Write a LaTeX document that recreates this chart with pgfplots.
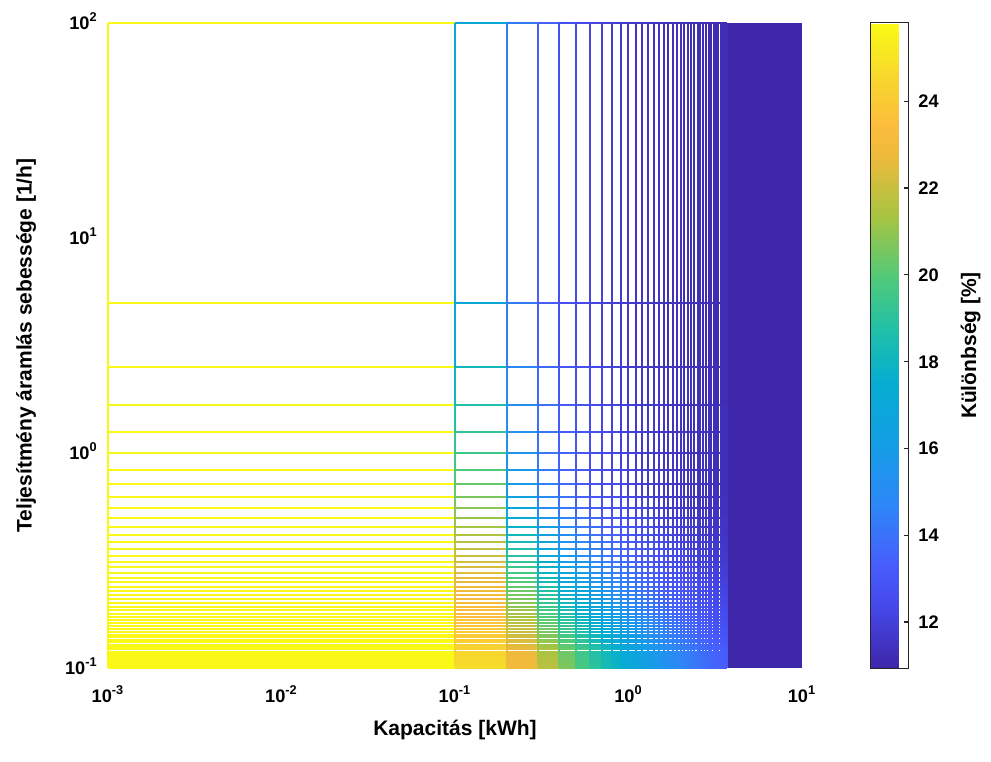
\documentclass[border=0pt]{standalone}
\usepackage{fontspec}
\setmainfont{Liberation Sans}
\usepackage{pgfplots}
\pgfplotsset{compat=1.18}
\usepackage{pgfplotstable}
\usetikzlibrary{calc}

% old MATLAB parula
\pgfplotsset{colormap={parulaold}{
  rgb(0pt)=(0.2422,0.1504,0.6603); rgb(6pt)=(0.2725,0.2839,0.9167);
  rgb(10pt)=(0.2801,0.3631,0.9868); rgb(16pt)=(0.1786,0.5289,0.9682);
  rgb(22pt)=(0.0759,0.6191,0.8985); rgb(28pt)=(0.0235,0.6798,0.8173);
  rgb(33pt)=(0.1250,0.7500,0.6600); rgb(38pt)=(0.3100,0.7900,0.4800);
  rgb(44pt)=(0.6500,0.7700,0.2600); rgb(50pt)=(0.9300,0.7300,0.2300);
  rgb(53pt)=(0.9900,0.7400,0.2400); rgb(58pt)=(0.9700,0.8500,0.1700);
  rgb(63pt)=(0.9769,0.9839,0.0805)}}
\definecolor{parulalow}{rgb}{0.243,0.153,0.665}
\pgfplotsset{gridline/.style={mesh, shader=flat corner, point meta=explicit, line width=1pt, forget plot}}

\newcommand{\tickfont}{\bfseries\fontsize{9.1}{11}\selectfont}
\newcommand{\labfont}{\bfseries\fontsize{10.5}{12.6}\selectfont}

% difference [%] on the grid: one row per power-rate value y, one column per capacity (c0..c37),
% last row xx holds the capacities
\pgfplotstableread{
name y c0 c1 c2 c3 c4 c5 c6 c7 c8 c9 c10 c11 c12 c13 c14 c15 c16 c17 c18 c19 c20 c21 c22 c23 c24 c25 c26 c27 c28 c29 c30 c31 c32 c33 c34 c35 c36 c37
r0 100 25.7 17.1 14.3 13.3 12.7 12.4 12.2 12.0 11.9 11.8 11.7 11.6 11.6 11.6 11.5 11.5 11.4 11.4 11.4 11.4 11.4 11.3 11.3 11.3 11.3 11.3 11.3 11.3 11.3 11.2 11.2 11.2 11.2 11.2 11.2 11.2 11.2 11.2
r1 5 25.7 17.1 14.3 13.3 12.7 12.4 12.2 12.0 11.9 11.8 11.7 11.6 11.6 11.6 11.5 11.5 11.4 11.4 11.4 11.4 11.4 11.3 11.3 11.3 11.3 11.3 11.3 11.3 11.3 11.2 11.2 11.2 11.2 11.2 11.2 11.2 11.2 11.2
r2 2.5 25.7 18.1 14.9 13.7 13.0 12.6 12.4 12.2 12.0 11.9 11.8 11.8 11.7 11.6 11.6 11.6 11.5 11.5 11.5 11.4 11.4 11.4 11.4 11.4 11.4 11.3 11.3 11.3 11.3 11.3 11.3 11.3 11.2 11.2 11.2 11.2 11.2 11.2
r3 1.667 25.7 18.7 15.2 13.9 13.2 12.8 12.5 12.3 12.1 12.0 11.9 11.8 11.8 11.7 11.7 11.6 11.6 11.5 11.5 11.5 11.5 11.4 11.4 11.4 11.4 11.4 11.4 11.3 11.3 11.3 11.3 11.3 11.3 11.3 11.3 11.3 11.3 11.3
r4 1.25 25.7 19.2 15.4 14.1 13.3 12.9 12.6 12.4 12.2 12.1 12.0 11.9 11.8 11.7 11.7 11.6 11.6 11.6 11.5 11.5 11.5 11.5 11.4 11.4 11.4 11.4 11.4 11.4 11.3 11.3 11.3 11.3 11.3 11.3 11.3 11.3 11.3 11.3
r5 1 25.7 19.5 15.6 14.2 13.4 13.0 12.6 12.4 12.2 12.1 12.0 11.9 11.8 11.8 11.7 11.7 11.6 11.6 11.6 11.5 11.5 11.5 11.5 11.4 11.4 11.4 11.4 11.4 11.4 11.4 11.3 11.3 11.3 11.3 11.3 11.3 11.3 11.3
r6 0.8333 25.7 19.9 15.9 14.3 13.5 13.1 12.7 12.5 12.3 12.2 12.0 12.0 11.9 11.8 11.8 11.7 11.7 11.6 11.6 11.6 11.5 11.5 11.5 11.5 11.4 11.4 11.4 11.4 11.4 11.4 11.4 11.3 11.3 11.3 11.3 11.3 11.3 11.3
r7 0.7143 25.7 20.3 16.1 14.5 13.7 13.1 12.8 12.5 12.4 12.2 12.1 12.0 11.9 11.8 11.8 11.7 11.7 11.6 11.6 11.6 11.6 11.5 11.5 11.5 11.5 11.4 11.4 11.4 11.4 11.4 11.4 11.4 11.4 11.3 11.3 11.3 11.3 11.3
r8 0.625 25.7 20.6 16.5 14.9 14.0 13.4 13.0 12.8 12.6 12.4 12.3 12.1 12.1 12.0 11.9 11.8 11.8 11.8 11.7 11.7 11.6 11.6 11.6 11.6 11.5 11.5 11.5 11.5 11.5 11.4 11.4 11.4 11.4 11.4 11.4 11.4 11.4 11.4
r9 0.5556 25.7 20.9 17.0 15.3 14.3 13.7 13.3 13.0 12.8 12.6 12.4 12.3 12.2 12.1 12.0 12.0 11.9 11.9 11.8 11.8 11.7 11.7 11.7 11.6 11.6 11.6 11.6 11.5 11.5 11.5 11.5 11.5 11.5 11.4 11.4 11.4 11.4 11.4
r10 0.5 25.7 21.1 17.4 15.6 14.7 14.0 13.6 13.2 13.0 12.8 12.6 12.5 12.4 12.3 12.2 12.1 12.0 12.0 11.9 11.9 11.8 11.8 11.8 11.7 11.7 11.7 11.6 11.6 11.6 11.6 11.6 11.5 11.5 11.5 11.5 11.5 11.5 11.5
r11 0.4545 25.7 21.3 17.7 16.0 15.0 14.3 13.8 13.4 13.2 13.0 12.8 12.6 12.5 12.4 12.3 12.2 12.1 12.1 12.0 12.0 11.9 11.9 11.8 11.8 11.8 11.7 11.7 11.7 11.7 11.6 11.6 11.6 11.6 11.6 11.6 11.5 11.5 11.5
r12 0.4167 25.7 21.5 18.1 16.3 15.3 14.5 14.0 13.7 13.4 13.1 12.9 12.8 12.6 12.5 12.4 12.3 12.3 12.2 12.1 12.1 12.0 12.0 11.9 11.9 11.9 11.8 11.8 11.8 11.7 11.7 11.7 11.7 11.6 11.6 11.6 11.6 11.6 11.6
r13 0.3846 25.7 21.7 18.4 16.6 15.5 14.8 14.3 13.9 13.6 13.3 13.1 12.9 12.8 12.7 12.6 12.5 12.4 12.3 12.2 12.2 12.1 12.1 12.0 12.0 11.9 11.9 11.9 11.8 11.8 11.8 11.8 11.7 11.7 11.7 11.7 11.7 11.6 11.6
r14 0.3571 25.7 21.9 18.7 16.9 15.8 15.1 14.5 14.1 13.8 13.5 13.3 13.1 12.9 12.8 12.7 12.6 12.5 12.4 12.3 12.3 12.2 12.2 12.1 12.1 12.0 12.0 11.9 11.9 11.9 11.9 11.8 11.8 11.8 11.8 11.7 11.7 11.7 11.7
r15 0.3333 25.7 22.0 18.9 17.2 16.1 15.3 14.7 14.3 13.9 13.7 13.4 13.2 13.1 12.9 12.8 12.7 12.6 12.5 12.4 12.4 12.3 12.2 12.2 12.1 12.1 12.1 12.0 12.0 12.0 11.9 11.9 11.9 11.8 11.8 11.8 11.8 11.7 11.7
r16 0.3125 25.7 22.2 19.2 17.4 16.3 15.5 14.9 14.5 14.1 13.8 13.6 13.4 13.2 13.1 12.9 12.8 12.7 12.6 12.5 12.5 12.4 12.3 12.3 12.2 12.2 12.1 12.1 12.1 12.0 12.0 12.0 11.9 11.9 11.9 11.8 11.8 11.8 11.8
r17 0.2941 25.7 22.3 19.4 17.7 16.6 15.7 15.1 14.7 14.3 14.0 13.8 13.5 13.4 13.2 13.1 12.9 12.8 12.7 12.6 12.6 12.5 12.4 12.4 12.3 12.3 12.2 12.2 12.1 12.1 12.1 12.0 12.0 12.0 11.9 11.9 11.9 11.9 11.8
r18 0.2778 25.7 22.5 19.6 17.9 16.8 16.0 15.3 14.9 14.5 14.2 13.9 13.7 13.5 13.3 13.2 13.1 12.9 12.8 12.7 12.7 12.6 12.5 12.5 12.4 12.3 12.3 12.2 12.2 12.2 12.1 12.1 12.1 12.0 12.0 12.0 11.9 11.9 11.9
r19 0.2632 25.7 22.6 19.8 18.1 17.0 16.2 15.5 15.0 14.7 14.3 14.1 13.8 13.6 13.5 13.3 13.2 13.0 12.9 12.8 12.8 12.7 12.6 12.5 12.5 12.4 12.4 12.3 12.3 12.2 12.2 12.2 12.1 12.1 12.1 12.0 12.0 12.0 12.0
r20 0.25 25.7 22.7 20.0 18.4 17.2 16.4 15.7 15.2 14.8 14.5 14.2 14.0 13.8 13.6 13.4 13.3 13.2 13.0 12.9 12.9 12.8 12.7 12.6 12.6 12.5 12.5 12.4 12.4 12.3 12.3 12.2 12.2 12.2 12.1 12.1 12.1 12.0 12.0
r21 0.2381 25.7 22.8 20.2 18.6 17.4 16.6 15.9 15.4 15.0 14.6 14.4 14.1 13.9 13.7 13.5 13.4 13.3 13.2 13.0 13.0 12.9 12.8 12.7 12.6 12.6 12.5 12.5 12.4 12.4 12.3 12.3 12.3 12.2 12.2 12.2 12.1 12.1 12.1
r22 0.2273 25.7 22.9 20.4 18.8 17.6 16.8 16.1 15.6 15.1 14.8 14.5 14.2 14.0 13.8 13.7 13.5 13.4 13.3 13.1 13.0 13.0 12.9 12.8 12.7 12.7 12.6 12.5 12.5 12.4 12.4 12.4 12.3 12.3 12.2 12.2 12.2 12.1 12.1
r23 0.2174 25.7 23.0 20.6 18.9 17.8 16.9 16.3 15.7 15.3 14.9 14.6 14.4 14.1 14.0 13.8 13.6 13.5 13.4 13.2 13.1 13.0 13.0 12.9 12.8 12.7 12.7 12.6 12.6 12.5 12.5 12.4 12.4 12.3 12.3 12.3 12.2 12.2 12.2
r24 0.2083 25.7 23.1 20.7 19.1 18.0 17.1 16.4 15.9 15.5 15.1 14.8 14.5 14.3 14.1 13.9 13.7 13.6 13.5 13.3 13.2 13.1 13.1 13.0 12.9 12.8 12.8 12.7 12.6 12.6 12.5 12.5 12.4 12.4 12.4 12.3 12.3 12.3 12.2
r25 0.2 25.7 23.2 20.9 19.3 18.2 17.3 16.6 16.1 15.6 15.2 14.9 14.6 14.4 14.2 14.0 13.8 13.7 13.6 13.4 13.3 13.2 13.1 13.1 13.0 12.9 12.8 12.8 12.7 12.7 12.6 12.6 12.5 12.5 12.4 12.4 12.4 12.3 12.3
r26 0.1923 25.7 23.3 21.0 19.5 18.3 17.5 16.8 16.2 15.8 15.4 15.0 14.8 14.5 14.3 14.1 13.9 13.8 13.7 13.5 13.4 13.3 13.2 13.1 13.1 13.0 12.9 12.8 12.8 12.7 12.7 12.6 12.6 12.5 12.5 12.5 12.4 12.4 12.3
r27 0.1852 25.7 23.4 21.2 19.6 18.5 17.6 16.9 16.4 15.9 15.5 15.2 14.9 14.6 14.4 14.2 14.1 13.9 13.8 13.6 13.5 13.4 13.3 13.2 13.1 13.1 13.0 12.9 12.9 12.8 12.7 12.7 12.6 12.6 12.6 12.5 12.5 12.4 12.4
r28 0.1786 25.7 23.5 21.3 19.8 18.6 17.8 17.1 16.5 16.0 15.6 15.3 15.0 14.8 14.5 14.3 14.2 14.0 13.9 13.7 13.6 13.5 13.4 13.3 13.2 13.1 13.1 13.0 12.9 12.9 12.8 12.8 12.7 12.7 12.6 12.6 12.5 12.5 12.5
r29 0.1724 25.7 23.5 21.4 19.9 18.8 17.9 17.2 16.7 16.2 15.8 15.4 15.1 14.9 14.7 14.4 14.3 14.1 14.0 13.8 13.7 13.6 13.5 13.4 13.3 13.2 13.1 13.1 13.0 12.9 12.9 12.8 12.8 12.7 12.7 12.6 12.6 12.5 12.5
r30 0.1667 25.7 23.6 21.6 20.1 18.9 18.1 17.4 16.8 16.3 15.9 15.6 15.3 15.0 14.8 14.6 14.4 14.2 14.1 13.9 13.8 13.7 13.6 13.5 13.4 13.3 13.2 13.1 13.1 13.0 12.9 12.9 12.8 12.8 12.7 12.7 12.6 12.6 12.6
r31 0.1613 25.7 23.7 21.7 20.2 19.1 18.2 17.5 16.9 16.5 16.0 15.7 15.4 15.1 14.9 14.7 14.5 14.3 14.1 14.0 13.9 13.8 13.6 13.5 13.5 13.4 13.3 13.2 13.1 13.1 13.0 13.0 12.9 12.8 12.8 12.7 12.7 12.7 12.6
r32 0.1563 25.7 23.8 21.8 20.3 19.2 18.4 17.7 17.1 16.6 16.2 15.8 15.5 15.2 15.0 14.8 14.6 14.4 14.2 14.1 14.0 13.8 13.7 13.6 13.5 13.4 13.4 13.3 13.2 13.1 13.1 13.0 13.0 12.9 12.9 12.8 12.8 12.7 12.7
r33 0.1515 25.7 23.9 21.9 20.5 19.4 18.5 17.8 17.2 16.7 16.3 15.9 15.6 15.3 15.1 14.9 14.7 14.5 14.3 14.2 14.1 13.9 13.8 13.7 13.6 13.5 13.4 13.4 13.3 13.2 13.1 13.1 13.0 13.0 12.9 12.9 12.8 12.8 12.7
r34 0.1471 25.7 23.9 22.0 20.6 19.5 18.6 17.9 17.3 16.8 16.4 16.0 15.7 15.4 15.2 15.0 14.8 14.6 14.4 14.3 14.1 14.0 13.9 13.8 13.7 13.6 13.5 13.4 13.3 13.3 13.2 13.1 13.1 13.0 13.0 12.9 12.9 12.8 12.8
r35 0.1429 25.7 24.0 22.1 20.7 19.6 18.8 18.1 17.5 17.0 16.5 16.2 15.8 15.6 15.3 15.1 14.9 14.7 14.5 14.4 14.2 14.1 14.0 13.9 13.8 13.7 13.6 13.5 13.4 13.3 13.3 13.2 13.1 13.1 13.0 13.0 12.9 12.9 12.8
r36 0.1389 25.7 24.0 22.2 20.8 19.8 18.9 18.2 17.6 17.1 16.7 16.3 16.0 15.7 15.4 15.2 15.0 14.8 14.6 14.5 14.3 14.2 14.1 13.9 13.8 13.7 13.6 13.6 13.5 13.4 13.3 13.3 13.2 13.1 13.1 13.0 13.0 12.9 12.9
r37 0.1351 25.7 24.1 22.3 20.9 19.9 19.0 18.3 17.7 17.2 16.8 16.4 16.1 15.8 15.5 15.3 15.1 14.9 14.7 14.5 14.4 14.3 14.1 14.0 13.9 13.8 13.7 13.6 13.6 13.5 13.4 13.3 13.3 13.2 13.2 13.1 13.0 13.0 12.9
r38 0.1316 25.7 24.2 22.4 21.1 20.0 19.1 18.4 17.8 17.3 16.9 16.5 16.2 15.9 15.6 15.4 15.2 15.0 14.8 14.6 14.5 14.3 14.2 14.1 14.0 13.9 13.8 13.7 13.6 13.5 13.5 13.4 13.3 13.3 13.2 13.2 13.1 13.1 13.0
r39 0.1282 25.7 24.2 22.5 21.2 20.1 19.3 18.5 17.9 17.4 17.0 16.6 16.3 16.0 15.7 15.5 15.3 15.1 14.9 14.7 14.6 14.4 14.3 14.2 14.1 14.0 13.9 13.8 13.7 13.6 13.5 13.5 13.4 13.3 13.3 13.2 13.2 13.1 13.1
r40 0.125 25.7 24.3 22.6 21.3 20.2 19.4 18.7 18.1 17.5 17.1 16.7 16.4 16.1 15.8 15.6 15.3 15.1 15.0 14.8 14.6 14.5 14.4 14.3 14.1 14.0 13.9 13.8 13.8 13.7 13.6 13.5 13.5 13.4 13.3 13.3 13.2 13.2 13.1
r41 0.122 25.7 24.3 22.7 21.4 20.3 19.5 18.8 18.2 17.7 17.2 16.8 16.5 16.2 15.9 15.7 15.4 15.2 15.0 14.9 14.7 14.6 14.4 14.3 14.2 14.1 14.0 13.9 13.8 13.7 13.7 13.6 13.5 13.4 13.4 13.3 13.3 13.2 13.2
r42 0.119 25.7 24.4 22.8 21.4 20.4 19.5 18.8 18.2 17.7 17.3 16.9 16.5 16.2 15.9 15.7 15.5 15.3 15.1 14.9 14.8 14.6 14.5 14.4 14.2 14.1 14.0 13.9 13.8 13.8 13.7 13.6 13.5 13.5 13.4 13.4 13.3 13.2 13.2
r43 0.1163 25.7 24.4 22.8 21.4 20.4 19.5 18.8 18.2 17.7 17.3 16.9 16.5 16.2 15.9 15.7 15.5 15.3 15.1 14.9 14.8 14.6 14.5 14.4 14.2 14.1 14.0 13.9 13.8 13.8 13.7 13.6 13.5 13.5 13.4 13.4 13.3 13.2 13.2
r44 0.1136 25.7 24.4 22.8 21.4 20.4 19.5 18.8 18.2 17.7 17.3 16.9 16.5 16.2 15.9 15.7 15.5 15.3 15.1 14.9 14.8 14.6 14.5 14.4 14.2 14.1 14.0 13.9 13.8 13.8 13.7 13.6 13.5 13.5 13.4 13.4 13.3 13.2 13.2
r45 0.1111 25.7 24.6 22.9 21.6 20.5 19.6 18.9 18.3 17.8 17.3 16.9 16.6 16.3 16.0 15.8 15.5 15.3 15.1 15.0 14.8 14.7 14.5 14.4 14.3 14.2 14.1 14.0 13.9 13.8 13.7 13.6 13.6 13.5 13.4 13.4 13.3 13.3 13.2
r46 0.1087 25.7 24.6 22.9 21.6 20.5 19.6 18.9 18.3 17.8 17.3 16.9 16.6 16.3 16.0 15.8 15.5 15.3 15.1 15.0 14.8 14.7 14.5 14.4 14.3 14.2 14.1 14.0 13.9 13.8 13.7 13.6 13.6 13.5 13.4 13.4 13.3 13.3 13.2
r47 0.1064 25.7 24.6 22.9 21.6 20.5 19.6 18.9 18.3 17.8 17.3 16.9 16.6 16.3 16.0 15.8 15.5 15.3 15.1 15.0 14.8 14.7 14.5 14.4 14.3 14.2 14.1 14.0 13.9 13.8 13.7 13.6 13.6 13.5 13.4 13.4 13.3 13.3 13.2
r48 0.1042 25.7 24.7 23.0 21.7 20.6 19.7 19.0 18.4 17.9 17.4 17.0 16.6 16.3 16.1 15.8 15.6 15.4 15.2 15.0 14.8 14.7 14.6 14.4 14.3 14.2 14.1 14.0 13.9 13.8 13.7 13.7 13.6 13.5 13.5 13.4 13.3 13.3 13.2
r49 0.102 25.7 24.7 23.0 21.7 20.6 19.7 19.0 18.4 17.9 17.4 17.0 16.6 16.3 16.1 15.8 15.6 15.4 15.2 15.0 14.8 14.7 14.6 14.4 14.3 14.2 14.1 14.0 13.9 13.8 13.7 13.7 13.6 13.5 13.5 13.4 13.3 13.3 13.2
r50 0.1 25.7 24.7 23.0 21.7 20.6 19.7 19.0 18.4 17.9 17.4 17.0 16.6 16.3 16.1 15.8 15.6 15.4 15.2 15.0 14.8 14.7 14.6 14.4 14.3 14.2 14.1 14.0 13.9 13.8 13.7 13.7 13.6 13.5 13.5 13.4 13.3 13.3 13.2
xx 0 0.001 0.1 0.2 0.3 0.4 0.5 0.6 0.7 0.8 0.9 1 1.1 1.2 1.3 1.4 1.5 1.6 1.7 1.8 1.9 2 2.1 2.2 2.3 2.4 2.5 2.6 2.7 2.8 2.9 3 3.1 3.2 3.3 3.4 3.5 3.6 3.7
}\grid
% same grid, one row per capacity (column xx) and one column per power-rate row r0..r50
\pgfplotstabletranspose[colnames from=name, input colnames to=name]{\gridT}{\grid}

\begin{document}
\begin{tikzpicture}
\useasboundingbox (-54pt,-46.5pt) rectangle (441.5pt,334pt);
\begin{axis}[
  at={(0pt,0pt)}, anchor=south west,
  scale only axis, width=347pt, height=322.5pt,
  xmode=log, ymode=log,
  xmin=0.001, xmax=10, ymin=0.1, ymax=100,
  clip=false,
  axis line style={draw=none},
  tick style={draw=none},
  xminorticks=false, yminorticks=false,
  xtick={0.001,0.01,0.1,1,10},
  xticklabels={10\textsuperscript{-3},10\textsuperscript{-2},10\textsuperscript{-1},10\textsuperscript{0},10\textsuperscript{1}},
  ytick={0.1,1,10,100},
  yticklabels={10\textsuperscript{-1},10\textsuperscript{0},10\textsuperscript{1},10\textsuperscript{2}},
  xticklabel style={font=\tickfont, anchor=base, inner sep=0pt, yshift=-17pt},
  yticklabel style={font=\tickfont, anchor=base east, inner sep=0pt, xshift=-5pt, yshift=-3.3pt},
  xlabel={Kapacitás [kWh]},
  ylabel={Teljesítmény áramlás sebessége [1/h]},
  xlabel style={font=\labfont, at={(axis description cs:0.5,-0.1039)}, anchor=base},
  ylabel style={font=\labfont, at={(axis description cs:-0.1102,0.5)}, anchor=base},
  colormap name=parulaold,
  point meta min=10.94, point meta max=25.8,
  colorbar,
  colorbar style={
    at={($(parent axis.south east)+(25.5pt,0pt)$)}, anchor=south west,
    scale only axis, width=19pt, height=322.5pt,
    axis line style={draw=black!85, line width=0.5pt},
    ytick={12,14,16,18,20,22,24},
    ytick pos=right, yticklabel pos=right,
    tick align=inside, major tick length=2pt,
    tick style={draw=black!85, line width=0.6pt},
    /pgf/number format/assume math mode=true,
    yticklabel style={font=\tickfont, anchor=base west, inner sep=0pt, xshift=5pt, yshift=-3.3pt},
    ylabel={Különbség [\%]},
    ylabel style={font=\labfont, at={(axis description cs:2.79,0.5)}, anchor=base},
  },
]
% large capacities: grid lines so dense that they merge
\addplot[draw=none, fill=parulalow, forget plot] coordinates {(3.7,0.1) (10,0.1) (10,100) (3.7,100)} --cycle;

% horizontal grid lines (one per power-rate value)
\foreach \j/\yv in {0/100,1/5,2/2.5,3/1.667,4/1.25,5/1,6/0.8333,7/0.7143,8/0.625,9/0.5556,10/0.5,
  11/0.4545,12/0.4167,13/0.3846,14/0.3571,15/0.3333,16/0.3125,17/0.2941,18/0.2778,19/0.2632,20/0.25,
  21/0.2381,22/0.2273,23/0.2174,24/0.2083,25/0.2,26/0.1923,27/0.1852,28/0.1786,29/0.1724,30/0.1667,
  31/0.1613,32/0.1563,33/0.1515,34/0.1471,35/0.1429,36/0.1389,37/0.1351,38/0.1316,39/0.1282,40/0.125,
  41/0.122,42/0.119,43/0.1163,44/0.1136,45/0.1111,46/0.1087,47/0.1064,48/0.1042,49/0.102,50/0.1}{
  \edef\temp{\noexpand\addplot[gridline] table[x=xx, y expr=\yv, meta=r\j, skip coords between index={0}{1}] {\noexpand\gridT};}
  \temp
}
% vertical grid lines (one per capacity)
\foreach \i/\xv in {0/0.001,1/0.1,2/0.2,3/0.3,4/0.4,5/0.5,6/0.6,7/0.7,8/0.8,9/0.9,10/1,
  11/1.1,12/1.2,13/1.3,14/1.4,15/1.5,16/1.6,17/1.7,18/1.8,19/1.9,20/2,21/2.1,22/2.2,23/2.3,24/2.4,
  25/2.5,26/2.6,27/2.7,28/2.8,29/2.9,30/3,31/3.1,32/3.2,33/3.3,34/3.4,35/3.5,36/3.6,37/3.7}{
  \edef\temp{\noexpand\addplot[gridline] table[x expr=\xv, y=y, meta=c\i, skip coords between index={51}{52}] {\noexpand\grid};}
  \temp
}
\end{axis}
\end{tikzpicture}
\end{document}
